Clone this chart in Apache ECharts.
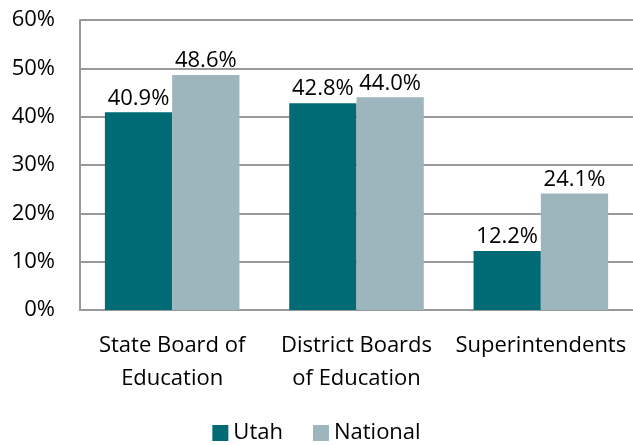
<!DOCTYPE html>
<html>
<head>
<meta charset="utf-8">
<script src="https://cdn.jsdelivr.net/npm/echarts@6/dist/echarts.min.js"></script>
<style>
  html, body { margin: 0; padding: 0; background: #fff; }
  #chart { width: 633px; height: 445px; }
</style>
</head>
<body>
<div id="chart"></div>
<script>
// Chart data
var categories = ['State Board of\nEducation', 'District Boards\nof Education', 'Superintendents'];
var utah = [40.9, 42.8, 12.2];
var national = [48.6, 44.0, 24.1];
var seriesNames = ['Utah', 'National'];

var font = "'Open Sans', 'Noto Sans', sans-serif";

var myChart = echarts.init(document.getElementById('chart'));

var labelOpts = {
  show: true,
  position: 'top',
  distance: 3,
  color: '#000',
  fontSize: 22,
  fontFamily: font,
  formatter: function (p) { return p.value.toFixed(1) + '%'; }
};

var chartOptions = {
  animation: false,
  textStyle: { fontFamily: font },
  grid: { left: 80, right: 0, top: 20, bottom: 135 },
  legend: {
    bottom: -4,
    left: 'center',
    itemWidth: 16,
    itemHeight: 16,
    itemGap: 30,
    icon: 'rect',
    textStyle: { fontSize: 22, color: '#000', fontFamily: font },
    data: seriesNames
  },
  xAxis: {
    type: 'category',
    data: categories,
    axisLine: { lineStyle: { color: '#999', width: 2 } },
    axisTick: { show: false },
    axisLabel: { color: '#000', fontSize: 22, lineHeight: 33, margin: 19, fontFamily: font, interval: 0 }
  },
  yAxis: {
    type: 'value',
    min: 0,
    max: 60,
    interval: 10,
    axisLine: { show: true, lineStyle: { color: '#999', width: 2 } },
    axisTick: { show: false },
    splitLine: { lineStyle: { color: '#999', width: 2 } },
    axisLabel: { color: '#000', fontSize: 22, margin: 25, fontFamily: font, formatter: '{value}%' }
  },
  series: [{
    name: seriesNames[0],
    type: 'bar',
    data: utah,
    barGap: '0%',
    barCategoryGap: '27%',
    itemStyle: { color: '#006B75' },
    label: labelOpts
  }, {
    name: seriesNames[1],
    type: 'bar',
    data: national,
    itemStyle: { color: '#9DB5BC' },
    label: labelOpts
  }]
};

myChart.setOption(chartOptions);
</script>
</body>
</html>
